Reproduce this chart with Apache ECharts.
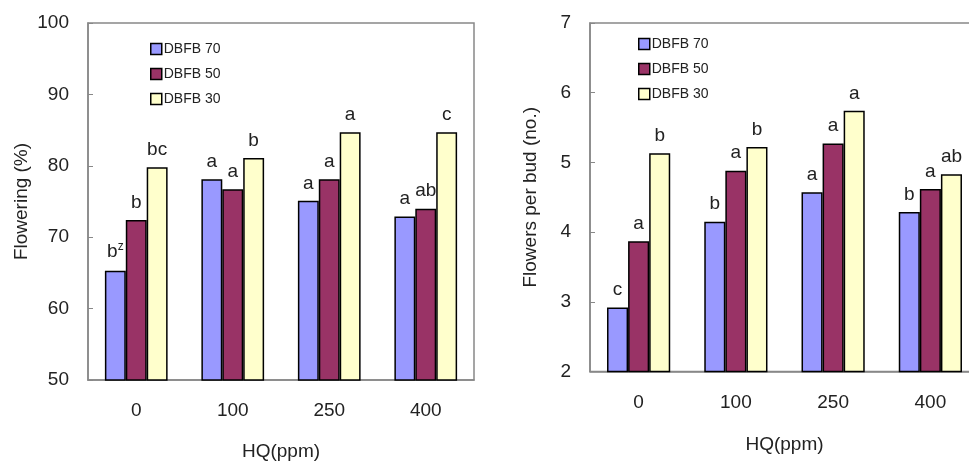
<!DOCTYPE html>
<html><head><meta charset="utf-8">
<script src="https://cdn.jsdelivr.net/npm/echarts@6/dist/echarts.min.js"></script>
<style>html,body{margin:0;padding:0;background:#fff}#c{width:969px;height:462px}</style>
</head><body><div id="c"></div>
<script>
const categories = ['0', '100', '250', '400'];
const seriesNames = ['DBFB 70', 'DBFB 50', 'DBFB 30'];
// Left: Flowering (%)
const flow70 = [65.3, 78.1, 75.1, 72.9];
const flow50 = [72.4, 76.7, 78.1, 74.0];
const flow30 = [79.8, 81.1, 84.7, 84.7];
const flowLetters70 = ['b{sup|z}', 'a', 'a', 'a'];
const flowLetters50 = ['b', 'a', 'a', 'ab'];
const flowLetters30 = ['bc', 'b', 'a', 'c'];
// Right: Flowers per bud (no.)
const bud70 = [2.92, 4.15, 4.57, 4.29];
const bud50 = [3.87, 4.88, 5.27, 4.62];
const bud30 = [5.13, 5.22, 5.74, 4.83];
const budLetters70 = ['c', 'b', 'a', 'b'];
const budLetters50 = ['a', 'a', 'a', 'a'];
const budLetters30 = ['b', 'b', 'a', 'ab'];
const flowTicks = [50, 60, 70, 80, 90, 100];
const budTicks = [2, 3, 4, 5, 6, 7];

const colors = ['#9999FF', '#993366', '#FFFFCC'];
const font = 'Liberation Sans, Arial, sans-serif';
const txt = '#222';

function mkSeries(name, vals, letters, idx, axisIdx) {
  return {
    name: name, type: 'bar', xAxisIndex: axisIdx, yAxisIndex: axisIdx,
    barGap: '0%', barCategoryGap: '35%',
    itemStyle: { color: colors[idx], borderColor: '#000', borderWidth: 1.5 },
    data: vals,
    label: {
      show: true, position: 'top', distance: 8,
      fontFamily: font, fontSize: 19, color: txt,
      formatter: p => letters[p.dataIndex],
      rich: { sup: { fontSize: 12, verticalAlign: 'top', color: txt, fontFamily: font, padding: [0, 0, 10, 0] } }
    }
  };
}

const yAxisCommon = {
  type: 'value',
  nameLocation: 'middle',
  nameTextStyle: { fontFamily: font, fontSize: 19, color: txt },
  axisLine: { show: true, lineStyle: { color: '#888', width: 1.5 } },
  axisTick: { show: true, inside: true, length: 5, lineStyle: { color: '#888' } },
  axisLabel: { fontFamily: font, fontSize: 19, color: txt, margin: 19 },
  splitLine: { show: false }
};
const xAxisCommon = {
  type: 'category', data: categories,
  nameLocation: 'middle',
  nameTextStyle: { fontFamily: font, fontSize: 19, color: txt },
  axisLine: { show: true, lineStyle: { color: '#888', width: 1.5 } },
  axisTick: { show: false },
  axisLabel: { fontFamily: font, fontSize: 19, color: txt, margin: 21 }
};

const chart = echarts.init(document.getElementById('c'));
chart.setOption({
  animation: false,
  grid: [
    { left: 88, top: 23, width: 386, height: 357, show: true, borderColor: '#888', borderWidth: 1.5, backgroundColor: 'transparent', outerBoundsMode: 'none', containLabel: false },
    { left: 590, top: 23, width: 389, height: 348.5, show: true, borderColor: '#888', borderWidth: 1.5, backgroundColor: 'transparent', outerBoundsMode: 'none', containLabel: false }
  ],
  legend: [
    { data: seriesNames, orient: 'vertical', left: 145, top: 37, itemWidth: 11, itemHeight: 11, itemGap: 11,
      icon: 'rect', textStyle: { fontFamily: font, fontSize: 14, color: txt, padding: [0, 0, 0, -3] },
      itemStyle: { borderColor: '#000', borderWidth: 1.5 } },
    { data: seriesNames, orient: 'vertical', left: 633, top: 32, itemWidth: 11, itemHeight: 11, itemGap: 11,
      icon: 'rect', textStyle: { fontFamily: font, fontSize: 14, color: txt, padding: [0, 0, 0, -3] },
      itemStyle: { borderColor: '#000', borderWidth: 1.5 } }
  ],
  xAxis: [
    Object.assign({}, xAxisCommon, { gridIndex: 0, name: 'HQ(ppm)', nameGap: 62 }),
    Object.assign({}, xAxisCommon, { gridIndex: 1, name: 'HQ(ppm)', nameGap: 64, axisLabel: Object.assign({}, xAxisCommon.axisLabel, { margin: 22 }) })
  ],
  yAxis: [
    Object.assign({}, yAxisCommon, { gridIndex: 0, name: 'Flowering (%)', nameGap: 57,
      min: flowTicks[0], max: flowTicks[flowTicks.length - 1], interval: 10 }),
    Object.assign({}, yAxisCommon, { gridIndex: 1, name: 'Flowers per bud (no.)', nameGap: 50,
      min: budTicks[0], max: budTicks[budTicks.length - 1], interval: 1 })
  ],
  series: [
    mkSeries(seriesNames[0], flow70, flowLetters70, 0, 0),
    mkSeries(seriesNames[1], flow50, flowLetters50, 1, 0),
    mkSeries(seriesNames[2], flow30, flowLetters30, 2, 0),
    mkSeries(seriesNames[0], bud70, budLetters70, 0, 1),
    mkSeries(seriesNames[1], bud50, budLetters50, 1, 1),
    mkSeries(seriesNames[2], bud30, budLetters30, 2, 1)
  ]
});
</script></body></html>
